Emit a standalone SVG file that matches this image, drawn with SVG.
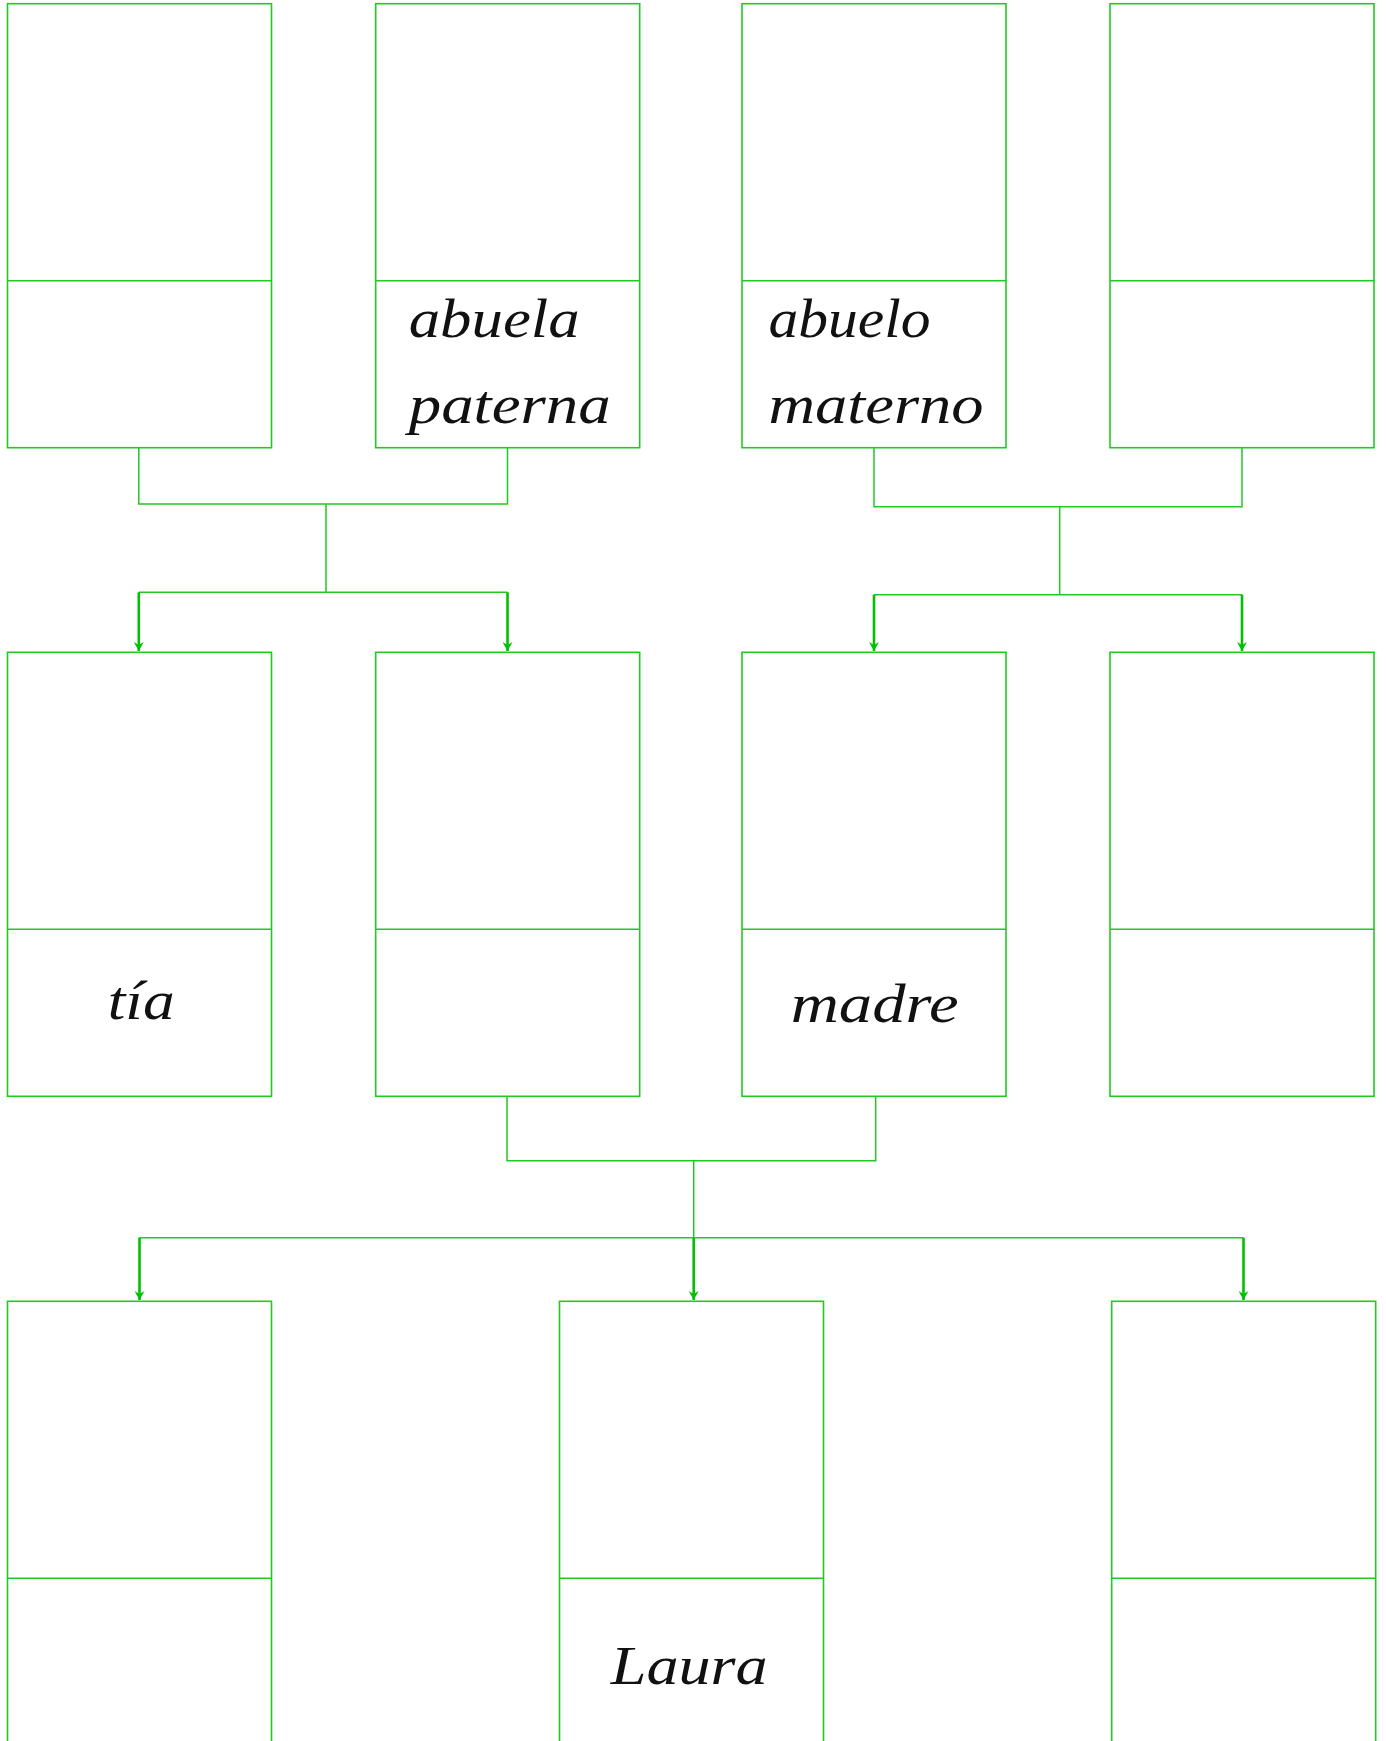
<svg xmlns="http://www.w3.org/2000/svg" width="1386" height="1741" viewBox="0 0 1386 1741">
<style>
.box{fill:#fff;stroke:#22c922;stroke-width:1.6}
.div{stroke:#22c922;stroke-width:1.6}
.con{fill:none;stroke:#22c922;stroke-width:1.5}
.arr{fill:none;stroke:#00c000;stroke-width:2.6}
.lbl{font-family:"Liberation Serif",serif;font-style:italic;font-size:54px;fill:#111}
</style>
<defs>
<marker id="ah" markerUnits="userSpaceOnUse" viewBox="-1 -6 12 12" markerWidth="12" markerHeight="12" refX="9" refY="0" orient="auto">
<path d="M0,-5 L9,0 L0,5 L3,0 Z" fill="#00c000"/>
</marker>
</defs>
<rect width="1386" height="1741" fill="#fff"/>
<g id="connectors">
<path class="con" d="M138.8,447.6 V504 H507.5 V447.6 M326,504 V592.3 M138.8,592.3 H507.5"/>
<path class="arr" marker-end="url(#ah)" d="M138.8,592.3 V651"/>
<path class="arr" marker-end="url(#ah)" d="M507.5,592.3 V651"/>
<path class="con" d="M874,447.6 V506.7 H1242 V447.6 M1059.7,506.7 V594.7 M874,594.7 H1242"/>
<path class="arr" marker-end="url(#ah)" d="M874,594.7 V651"/>
<path class="arr" marker-end="url(#ah)" d="M1242,594.7 V651"/>
<path class="con" d="M507,1096.3 V1160.7 H875.7 V1096.3 M693.7,1160.7 V1237.7 M139.5,1237.7 H1243.5"/>
<path class="arr" marker-end="url(#ah)" d="M139.5,1237.7 V1300"/>
<path class="arr" marker-end="url(#ah)" d="M693.7,1237.7 V1300"/>
<path class="arr" marker-end="url(#ah)" d="M1243.5,1237.7 V1300"/>
</g>
<g id="n1"><rect class="box" x="7.5" y="3.7" width="264" height="444"/><line class="div" x1="7.5" y1="280.7" x2="271.5" y2="280.7"/></g>
<g id="n2"><rect class="box" x="375.7" y="3.7" width="264" height="444"/><line class="div" x1="375.7" y1="280.7" x2="639.7" y2="280.7"/>
<text class="lbl" x="408.7" y="336.5" textLength="171" lengthAdjust="spacingAndGlyphs">abuela</text>
<text class="lbl" x="408.7" y="423" textLength="202" lengthAdjust="spacingAndGlyphs">paterna</text></g>
<g id="n3"><rect class="box" x="742" y="3.7" width="264" height="444"/><line class="div" x1="742" y1="280.7" x2="1006" y2="280.7"/>
<text class="lbl" x="768.5" y="336.5" textLength="162" lengthAdjust="spacingAndGlyphs">abuelo</text>
<text class="lbl" x="768.5" y="423" textLength="215" lengthAdjust="spacingAndGlyphs">materno</text></g>
<g id="n4"><rect class="box" x="1110" y="3.7" width="264" height="444"/><line class="div" x1="1110" y1="280.7" x2="1374" y2="280.7"/></g>
<g id="n5"><rect class="box" x="7.5" y="652.3" width="264" height="444"/><line class="div" x1="7.5" y1="929.3" x2="271.5" y2="929.3"/>
<text class="lbl" x="107.7" y="1018.5" textLength="67" lengthAdjust="spacingAndGlyphs">tía</text></g>
<g id="n6"><rect class="box" x="375.7" y="652.3" width="264" height="444"/><line class="div" x1="375.7" y1="929.3" x2="639.7" y2="929.3"/></g>
<g id="n7"><rect class="box" x="742" y="652.3" width="264" height="444"/><line class="div" x1="742" y1="929.3" x2="1006" y2="929.3"/>
<text class="lbl" x="790.7" y="1021.5" textLength="168" lengthAdjust="spacingAndGlyphs">madre</text></g>
<g id="n8"><rect class="box" x="1110" y="652.3" width="264" height="444"/><line class="div" x1="1110" y1="929.3" x2="1374" y2="929.3"/></g>
<g id="n9"><rect class="box" x="7.5" y="1301.3" width="264" height="444"/><line class="div" x1="7.5" y1="1578.3" x2="271.5" y2="1578.3"/></g>
<g id="n10"><rect class="box" x="559.5" y="1301.3" width="264" height="444"/><line class="div" x1="559.5" y1="1578.3" x2="823.5" y2="1578.3"/>
<text class="lbl" x="610.7" y="1684.3" textLength="157" lengthAdjust="spacingAndGlyphs">Laura</text></g>
<g id="n11"><rect class="box" x="1111.7" y="1301.3" width="264" height="444"/><line class="div" x1="1111.7" y1="1578.3" x2="1375.7" y2="1578.3"/></g>
</svg>
